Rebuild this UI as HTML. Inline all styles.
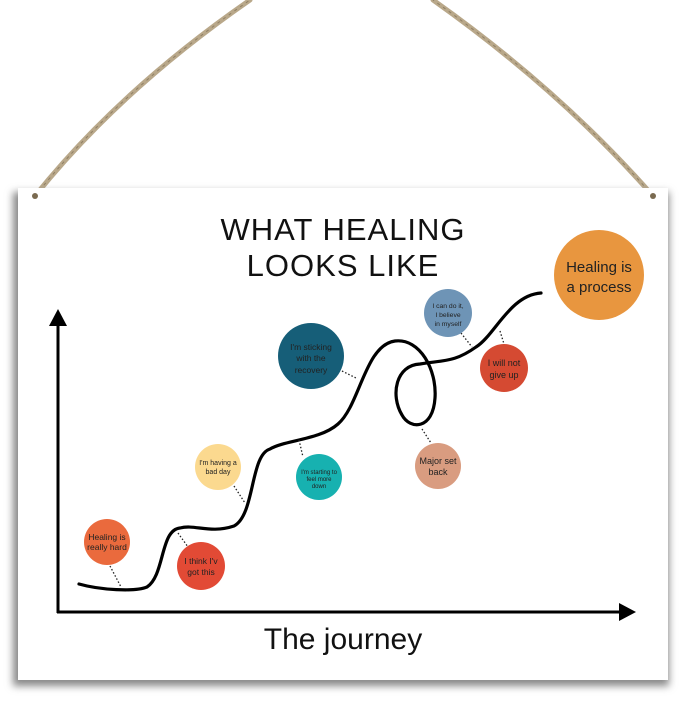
<!DOCTYPE html>
<html><head><meta charset="utf-8"><style>
html,body{margin:0;padding:0;background:#fff;width:679px;height:701px;overflow:hidden}
</style></head><body>
<svg width="679" height="701" viewBox="0 0 679 701" xmlns="http://www.w3.org/2000/svg" font-family="Liberation Sans, sans-serif">
<defs>
<filter id="sh" x="-5%" y="-5%" width="110%" height="112%"><feGaussianBlur stdDeviation="4"/></filter>
</defs>
<!-- ropes -->
<path d="M35,196 Q120,90 250,0" stroke="#b9a88a" stroke-width="5" fill="none" stroke-linecap="round"/>
<path d="M653,196 Q560,90 433,0" stroke="#b9a88a" stroke-width="5" fill="none" stroke-linecap="round"/>
<path d="M35,196 Q120,90 250,0" stroke="#8f7f64" stroke-width="1" stroke-dasharray="3 4" fill="none"/>
<path d="M653,196 Q560,90 433,0" stroke="#8f7f64" stroke-width="1" stroke-dasharray="3 4" fill="none"/>
<!-- board -->
<rect x="13" y="192" width="656" height="494" fill="#888" filter="url(#sh)"/>
<rect x="18" y="188" width="650" height="492" fill="#fff"/>
<circle cx="35" cy="196" r="3" fill="#7a6a50"/>
<circle cx="653" cy="196" r="3" fill="#7a6a50"/>
<!-- title -->
<g font-size="31" fill="#111" text-anchor="middle">
<text x="343" y="240" letter-spacing="1">WHAT HEALING</text>
<text x="343" y="276" letter-spacing="1">LOOKS LIKE</text>
<text x="343" y="649" font-size="30">The journey</text>
</g>
<!-- axes -->
<line x1="58" y1="322" x2="58" y2="613" stroke="#000" stroke-width="3"/>
<polygon points="58,309 49,326 67,326" fill="#000"/>
<line x1="57" y1="612" x2="622" y2="612" stroke="#000" stroke-width="3"/>
<polygon points="636,612 619,603 619,621" fill="#000"/>
<!-- curve -->
<path d="M79,584 C100,590 135,592 147,587 C165,575 160,530 180,528 C195,524 210,534 234,526 C255,515 250,455 270,449 C285,440 320,440 338,424 C360,405 365,345 395,341 C420,338 437,370 435,398 C433,430 410,430 402,415 C390,395 396,365 420,364 C445,360 455,362 476,347 C495,335 510,295 541,293" stroke="#000" stroke-width="3.2" fill="none" stroke-linecap="round"/>
<!-- dotted connectors -->
<g stroke="#222" stroke-width="1.3" stroke-dasharray="1.5 2">
<line x1="110" y1="566" x2="121" y2="587"/>
<line x1="178" y1="533" x2="188" y2="547"/>
<line x1="234" y1="486" x2="245" y2="503"/>
<line x1="299" y1="440" x2="303" y2="457"/>
<line x1="342" y1="371" x2="356" y2="378"/>
<line x1="422" y1="429" x2="431" y2="443"/>
<line x1="461" y1="333" x2="472" y2="347"/>
<line x1="500" y1="331" x2="504" y2="344"/>
</g>
<!-- bubbles -->
<g text-anchor="middle" fill="#222">
<circle cx="107" cy="542" r="23" fill="#ea6a3d"/>
<text x="107" y="540" font-size="8.5">Healing is</text><text x="107" y="550" font-size="8.5">really hard</text>
<circle cx="201" cy="566" r="24" fill="#e24a35"/>
<text x="201" y="564" font-size="8.5">I think I'v</text><text x="201" y="575" font-size="8.5">got this</text>
<circle cx="218" cy="467" r="23" fill="#fbd98f"/>
<text x="218" y="465" font-size="7">I'm having a</text><text x="218" y="474" font-size="7">bad day</text>
<circle cx="319" cy="477" r="23" fill="#17b1b0"/>
<text x="319" y="474" font-size="6">I'm starting to</text><text x="319" y="481" font-size="6">feel more</text><text x="319" y="488" font-size="6">down</text>
<circle cx="311" cy="356" r="33" fill="#165e78"/>
<text x="311" y="350" font-size="8.5">I'm sticking</text><text x="311" y="361" font-size="8.5">with the</text><text x="311" y="373" font-size="8.5">recovery</text>
<circle cx="438" cy="466" r="23" fill="#d99c80"/>
<text x="438" y="464" font-size="9">Major set</text><text x="438" y="475" font-size="9">back</text>
<circle cx="448" cy="313" r="24" fill="#6e94b6"/>
<text x="448" y="308" font-size="6.8">I can do it,</text><text x="448" y="317" font-size="6.8">I believe</text><text x="448" y="326" font-size="6.8">in myself</text>
<circle cx="504" cy="368" r="24" fill="#d54a32"/>
<text x="504" y="366" font-size="9">I will not</text><text x="504" y="378" font-size="9">give up</text>
<circle cx="599" cy="275" r="45" fill="#e8963f"/>
<text x="599" y="272" font-size="15">Healing is</text><text x="599" y="292" font-size="15">a process</text>
</g>
</svg>
</body></html>
